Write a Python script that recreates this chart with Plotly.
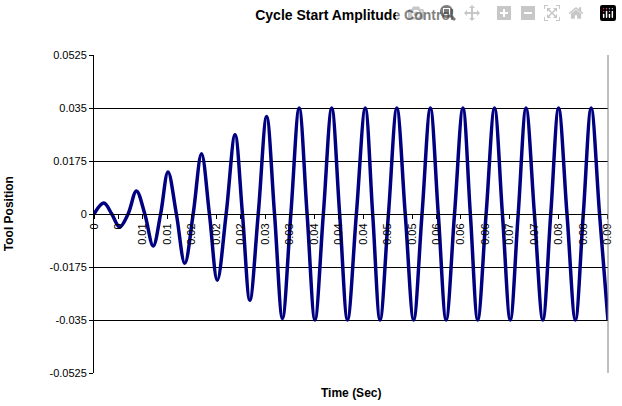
import plotly.graph_objects as go

# extrema of the wave (time in ms, position)
peak_times = [1.63, 4.25, 7.02, 9.80, 12.25, 15.03, 17.80, 20.41, 23.35, 25.80, 28.58, 31.20,
              33.97, 36.58, 39.36, 41.97, 44.91, 47.36, 50.14, 52.92, 55.69, 58.30, 61.08, 63.53,
              66.31, 68.92, 71.53, 74.31, 76.92, 79.70, 82.31, 85.09]
peak_values = [0.0036, -0.0043, 0.0076, -0.0106, 0.0139, -0.0163, 0.0199, -0.0219, 0.0262, -0.0285,
               0.0322, -0.0345, 0.035, -0.035, 0.035, -0.035, 0.035, -0.035, 0.035, -0.035,
               0.035, -0.035, 0.035, -0.035, 0.035, -0.035, 0.035, -0.035, 0.035, -0.035,
               0.035, -0.035]
# zero crossings (ms)
zero_times = [0, 2.94, 5.64, 8.41, 11.03, 13.64, 16.42, 19.11, 21.88, 24.58, 27.19, 29.89, 32.59,
              35.28, 37.97, 40.67, 43.44, 46.14, 48.75, 51.53, 54.31, 57.00, 59.69, 62.31, 64.92,
              67.62, 70.23, 72.92, 75.62, 78.31, 81.01, 83.70]

tick_times = [0, 4.05, 8.1, 12.15, 16.2, 20.25, 24.3, 28.35, 32.4, 36.45, 40.5, 44.55, 48.6,
              52.65, 56.7, 60.75, 64.8, 68.85, 72.9, 76.95, 81.0, 85.05]
tick_labels = ["0", "0", "0.01", "0.01", "0.02", "0.02", "0.02", "0.03", "0.03", "0.04", "0.04",
               "0.04", "0.05", "0.05", "0.06", "0.06", "0.06", "0.07", "0.07", "0.08", "0.08", "0.09"]
y_ticks = [0.0525, 0.035, 0.0175, 0, -0.0175, -0.035, -0.0525]

pts = sorted(list(zip(peak_times, peak_values)) + [(t, 0.0) for t in zero_times])
t = [p[0] / 1000 for p in pts]
v = [p[1] for p in pts]

fig = go.Figure(go.Scatter(x=t, y=v, mode="lines",
                           line=dict(color="#000080", width=3.5, shape="spline", smoothing=1.0)))

fig.update_layout(
    width=622, height=406, plot_bgcolor="white", paper_bgcolor="white",
    margin=dict(l=94, r=9, t=55, b=33), showlegend=False,
    font=dict(family="Liberation Sans, Arial", size=11, color="black"),
    title=dict(text="<b>Cycle Start Amplitude Control</b>", x=0.57, xanchor="center",
               y=0.975, yanchor="top", font=dict(size=14)),
    xaxis=dict(range=[0, 0.0851], tickvals=[x / 1000 for x in tick_times], ticktext=tick_labels,
               tickangle=-90, anchor="free", position=0.5, showgrid=False, zeroline=False,
               showline=True, linecolor="black", linewidth=1, ticks="outside", ticklen=4,
               tickcolor="black", tickfont=dict(size=11)),
    yaxis=dict(range=[-0.0525, 0.0525], tickvals=y_ticks,
               ticktext=["0.0525", "0.035", "0.0175", "0", "-0.0175", "-0.035", "-0.0525"],
               showgrid=True, gridcolor="black", gridwidth=1, zeroline=False,
               showline=True, linecolor="black", linewidth=1, ticks="outside", ticklen=4,
               tickcolor="black"),
    shapes=[dict(type="line", xref="paper", yref="paper", x0=1, x1=1, y0=0, y1=1,
                 line=dict(color="gray", width=1))],
    annotations=[
        dict(text="<b>Time (Sec)</b>", xref="paper", yref="paper", x=0.5, y=-0.035,
             xanchor="center", yanchor="top", showarrow=False, font=dict(size=12)),
        dict(text="<b>Tool Position</b>", xref="paper", yref="paper", x=-0.165, y=0.5,
             textangle=-90, xanchor="center", yanchor="middle", showarrow=False,
             font=dict(size=12)),
    ],
)

fig.write_html("out.html", post_script="document.body.style.margin='0';")
